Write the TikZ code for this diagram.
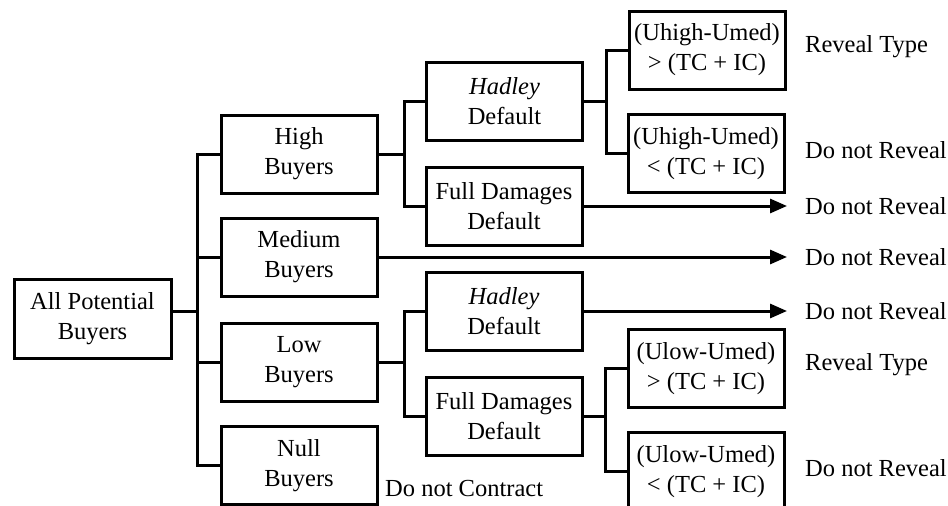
\documentclass[tikz,border=0pt]{standalone}
\usepackage{fontspec}
\setmainfont{Liberation Serif}
\usetikzlibrary{arrows.meta}
\begin{document}
\begin{tikzpicture}[x=1pt,y=-1pt,
  box/.style={draw,line width=3pt,minimum width=156pt,minimum height=78pt,inner sep=0pt,align=center,font=\fontsize{24.5}{30}\selectfont},
  lbl/.style={anchor=west,inner sep=0pt,font=\fontsize{24.5}{30}\selectfont},
  conn/.style={line width=3pt},
  arr/.style={line width=3pt,-{Triangle[length=17pt,width=14pt]}}]
\useasboundingbox[fill=white] (0,0) rectangle (948,506);
% boxes
\node[box,minimum width=157pt,minimum height=79pt] (all) at (92.5,318.5) {All Potential\\Buyers};
\node[box] (high) at (299,154) {High\\Buyers};
\node[box] (med) at (299,257) {Medium\\Buyers};
\node[box] (low) at (299,362) {Low\\Buyers};
\node[box] (null) at (299,465.5) {Null\\Buyers};
\node[box] (hhad) at (504.5,101) {\textit{Hadley}\\Default};
\node[box] (hfull) at (504,206) {Full Damages\\Default};
\node[box] (lhad) at (504,311) {\textit{Hadley}\\Default};
\node[box] (lfull) at (504,416) {Full Damages\\Default};
\node[box] (hu1) at (707,50) {(Uhigh-Umed)\\> (TC + IC)};
\node[box] (hu2) at (706,153.5) {(Uhigh-Umed)\\< (TC + IC)};
\node[box] (lu1) at (706,368.5) {(Ulow-Umed)\\> (TC + IC)};
\node[box] (lu2) at (706,471.5) {(Ulow-Umed)\\< (TC + IC)};
% labels
\node[lbl] (rt1) at (805,47) {Reveal Type};
\node[lbl] (dn1) at (805,150) {Do not Reveal};
\node[lbl] (dn2) at (805,206) {Do not Reveal};
\node[lbl] (dn3) at (805,257) {Do not Reveal};
\node[lbl] (dn4) at (805,311) {Do not Reveal};
\node[lbl] (rt2) at (805,365) {Reveal Type};
\node[lbl] (dn5) at (805,468) {Do not Reveal};
\node[lbl] (dnc) at (385,489) {Do not Contract};
% connectors level 1
\draw[conn] ([yshift=7.5pt]all.east) -- ++(25,0) coordinate (j1);
\draw[conn] (high.west) -| (j1 |- null.west) -- (null.west);
\draw[conn] (med.west) -- (j1 |- med.west);
\draw[conn] (low.west) -- (j1 |- low.west);
% high branch
\draw[conn] (high.east) -- ++(26,0) coordinate (j2);
\draw[conn] (hhad.west) -| (j2 |- hfull.west) -- (hfull.west);
\draw[arr] (hfull.east) -- ([xshift=-18pt]dn2.west);
\draw[conn] (hhad.east) -- ++(22,0) coordinate (j3);
\draw[conn] (hu1.west) -| (j3 |- hu2.west) -- (hu2.west);
% medium
\draw[arr] (med.east) -- ([xshift=-18pt]dn3.west);
% low branch
\draw[conn] (low.east) -- ++(26,0) coordinate (j4);
\draw[conn] (lhad.west) -| (j4 |- lfull.west) -- (lfull.west);
\draw[arr] (lhad.east) -- ([xshift=-18pt]dn4.west);
\draw[conn] (lfull.east) -- ++(22,0) coordinate (j5);
\draw[conn] (lu1.west) -| (j5 |- lu2.west) -- (lu2.west);
\end{tikzpicture}
\end{document}
